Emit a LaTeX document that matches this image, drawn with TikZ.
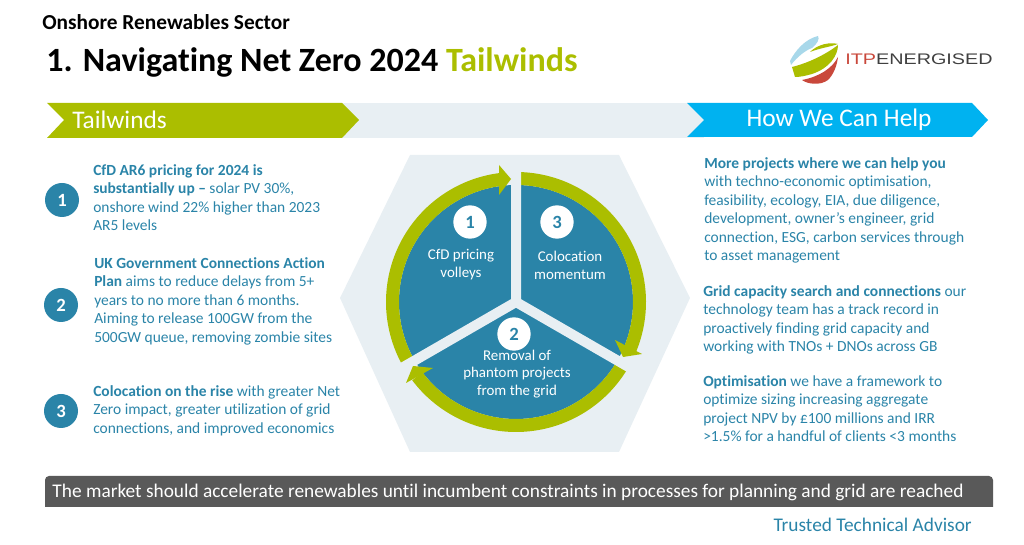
\documentclass[tikz,border=0pt]{standalone}
\usepackage{fontspec}
\setmainfont[Ligatures=NoCommon]{Carlito}
\newfontfamily\logofont{Liberation Sans}
\usetikzlibrary{positioning}
\definecolor{tealblue}{HTML}{2A84A8}
\definecolor{leafgreen}{HTML}{ABBE00}
\definecolor{skyblue}{HTML}{00B2F0}
\definecolor{palegrey}{HTML}{E8EFF3}
\definecolor{barfill}{HTML}{595959}
\definecolor{logored}{HTML}{C9483B}
\definecolor{logoblue}{HTML}{A8D8EA}
\tikzset{badge/.style={circle,fill=tealblue,text=white,minimum size=25.5pt,inner sep=0pt,font=\fontsize{14}{14}\selectfont\bfseries},
         wheel badge/.style={circle,fill=white,text=tealblue,minimum size=25pt,inner sep=0pt,font=\fontsize{14}{14}\selectfont\bfseries},
         body text/.style={anchor=north west,inner sep=0pt,align=left,text=tealblue,font=\fontsize{11.6}{13.9}\selectfont},
         wheel text/.style={inner sep=0pt,align=center,text=white,font=\fontsize{11.2}{13.4}\selectfont},
         band text/.style={inner sep=0pt,text=white,font=\fontsize{19}{19}\selectfont},
         ring/.style={draw=leafgreen,line width=9.75pt},
         tip fill/.style={fill=leafgreen}
}
\begin{document}
\begin{tikzpicture}[x=0.75pt,y=0.75pt]
\useasboundingbox (0,0) rectangle (1024,545);
% titles
\node [anchor=west,inner sep=0pt,font=\fontsize{16}{16}\selectfont\bfseries] (sector) at (42,523) {Onshore Renewables Sector};
\node [anchor=west,inner sep=0pt,font=\fontsize{25.5}{26}\selectfont\bfseries] (title) at (46,483) {1. Navigating Net Zero 2024 \textcolor{leafgreen}{Tailwinds}};
% logo
\fill [logoblue] (790,484) .. controls (795,494) and (805,506) .. (818,509) .. controls (820,506) and (817,501) .. (812,497) .. controls (806,495) and (797,488) .. (791,480) -- cycle;
\fill [leafgreen] (792,478) .. controls (808,482) and (825,490) .. (838,500) .. controls (838,490) and (830,477) .. (812,471) .. controls (805,469) and (800,468) .. (795,468) -- cycle;
\fill [leafgreen] (810,493) .. controls (818,501) and (830,503) .. (838,501) .. controls (830,498) and (820,497) .. (810,493) -- cycle;
\fill [logored] (802,465) .. controls (807,461) and (820,459) .. (828,465) .. controls (834,471) and (837,480) .. (838,488) .. controls (832,476) and (818,468) .. (802,465) -- cycle;
\node [anchor=west,inner sep=0pt,xscale=1.29,transform shape,font=\logofont\fontsize{11.5}{12}\selectfont] (logotext) at (845,486) {\textcolor{logored}{ITP}\textcolor{black!75}{ENERGISED}};
% band
\fill [palegrey] (342,442) -- (704,442) -- (704,407) -- (342,407) -- cycle;
\fill [leafgreen] (47,442) -- (342,442) -- (359,425) -- (342,407) -- (47,407) -- (64,425) -- cycle;
\fill [skyblue] (687,442) -- (972,442) -- (988,425) -- (972,408) -- (687,408) -- (704,425) -- cycle;
\node [band text,anchor=west] (lefthead) at (72,425) {Tailwinds};
\node [band text] (righthead) at (839,425) {How We Can Help};
% hexagon and wheel
\fill [palegrey] (340,247) -- (410,390) -- (619,390) -- (690,247) -- (619,93) -- (410,93) -- cycle;
\coordinate (hub) at (516,243);
\fill [tealblue] (hub) circle (117);
\draw [ring] (hub) ++(208:123.5) arc[start angle=208,end angle=95,radius=123.5];
\draw [ring] (hub) ++(88:123.5) arc[start angle=88,end angle=-24,radius=123.5];
\draw [ring] (hub) ++(-30:123.5) arc[start angle=-30,end angle=-143,radius=123.5];
\draw [palegrey,line width=7.5pt] (hub) -- ++(90:137) (hub) -- ++(210:137) (hub) -- ++(330:137);
\fill [tip fill] (511,366) -- (499,380) -- (499,350) -- cycle;
\fill [tip fill] (623,188) -- (615,205) -- (642,191) -- cycle;
\fill [tip fill] (413,179) -- (433,177) -- (406,162) -- cycle;
\node [wheel badge] (w1) at (470,323) {1};
\node [wheel badge] (w3) at (557,323) {3};
\node [wheel badge] (w2) at (514,211) {2};
\node [wheel text] (w1text) at (461,280) {CfD pricing\\volleys};
\node [wheel text] (w3text) at (570,280) {Colocation\\momentum};
\node [wheel text] (w2text) at (517,171) {Removal of\\phantom projects\\from the grid};
% left column
\node [badge] (b1) at (62,345) {1};
\node [badge] (b2) at (61,240) {2};
\node [badge] (b3) at (61,134) {3};
\node [body text] (t1) at (93,381) {\textbf{CfD AR6 pricing for 2024 is}\\\textbf{substantially up –} solar PV 30\%,\\onshore wind 22\% higher than 2023\\AR5 levels};
\node [body text] (t2) at (94,288) {\textbf{UK Government Connections Action}\\\textbf{Plan} aims to reduce delays from 5+\\years to no more than 6 months.\\Aiming to release 100GW from the\\500GW queue, removing zombie sites};
\node [body text] (t3) at (93,160) {\textbf{Colocation on the rise} with greater Net\\Zero impact, greater utilization of grid\\connections, and improved economics};
% right column
\node [body text] (r1) at (704,388) {\textbf{More projects where we can help you}\\with techno-economic optimisation,\\feasibility, ecology, EIA, due diligence,\\development, owner’s engineer, grid\\connection, ESG, carbon services through\\to asset management};
\node [body text] (r2) at (703,260) {\textbf{Grid capacity search and connections} our\\technology team has a track record in\\proactively finding grid capacity and\\working with TNOs + DNOs across GB};
\node [body text] (r3) at (703,170) {\textbf{Optimisation} we have a framework to\\optimize sizing increasing aggregate\\project NPV by £100 millions and IRR\\>1.5\% for a handful of clients <3 months};
% bottom bar
\fill [barfill] (45,38) [rounded corners=3pt] -- (45,69) -- (993,69) [sharp corners] -- (993,38) -- cycle;
\node [inner sep=0pt,text=white,font=\fontsize{14.5}{15}\selectfont] (message) at (508,53) {The market should accelerate renewables until incumbent constraints in processes for planning and grid are reached};
\node [anchor=east,inner sep=0pt,text=tealblue,font=\fontsize{14.5}{15}\selectfont] (advisor) at (972,20) {Trusted Technical Advisor};
\end{tikzpicture}
\end{document}
